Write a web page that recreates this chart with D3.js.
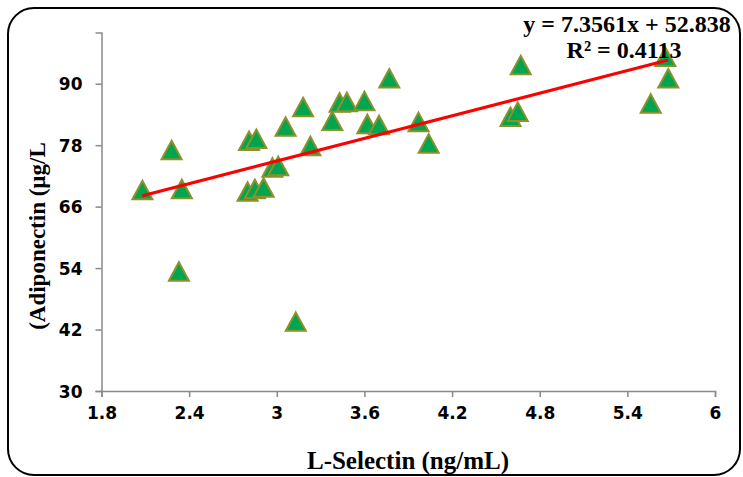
<!DOCTYPE html>
<html>
<head>
<meta charset="utf-8">
<script src="https://cdn.jsdelivr.net/npm/d3@7"></script>
<style>
  body { margin: 0; background: #fff; }
  .tick text { font-family: "DejaVu Sans", sans-serif; font-weight: bold; font-size: 17px; fill: #000; }
  .axis path, .axis line { stroke: #898989; stroke-width: 1.5; }
</style>
</head>
<body>
<div id="scatter-plot"></div>
<script>
// L-Selectin (x) vs Adiponectin (y)
var lSelectin = [2.08, 2.28, 2.35, 2.33, 2.80, 2.85, 2.91, 2.81, 2.86, 2.97, 3.01, 3.06, 3.18, 3.23, 3.13,
                 3.38, 3.43, 3.48, 3.60, 3.77, 3.62, 3.70, 3.97, 4.04, 4.60, 4.65, 4.67, 5.56, 5.66, 5.68];
var adiponectin = [69.2, 77.0, 69.4, 53.3, 68.9, 69.4, 69.7, 78.8, 79.2, 73.6, 73.9, 81.6, 85.4, 77.8, 43.5,
                   82.7, 86.3, 86.4, 86.6, 91.0, 82.1, 81.9, 82.5, 78.3, 83.5, 84.5, 93.6, 86.1, 95.2, 91.0];
var xTicks = [1.8, 2.4, 3, 3.6, 4.2, 4.8, 5.4, 6];
var yTicks = [30, 42, 54, 66, 78, 90];
var slope = 7.3561, intercept = 52.838, rSquared = 0.4113;

var width = 743, height = 477;

var svg = d3.select("#scatter-plot").append("svg")
  .attr("width", width)
  .attr("height", height);

// rounded frame round the whole chart
svg.append("rect")
  .attr("x", 8).attr("y", 8)
  .attr("width", 732).attr("height", 467)
  .attr("rx", 26).attr("ry", 26)
  .style("fill", "none")
  .style("stroke", "#000")
  .style("stroke-width", 2);

var x = d3.scaleLinear().domain([1.8, 6]).range([101.5, 715]);
var y = d3.scaleLinear().domain([30, 100]).range([391, 32.5]);

var xAxis = d3.axisBottom(x).tickValues(xTicks).tickSizeOuter(0).tickSize(6).tickPadding(8)
  .tickFormat(function(d) { return String(d); });
var yAxis = d3.axisLeft(y).tickValues(yTicks).tickSizeOuter(0).tickSize(6).tickPadding(13);

svg.append("g")
  .attr("class", "x axis")
  .attr("transform", "translate(0," + y(30) + ")")
  .call(xAxis);

svg.append("g")
  .attr("class", "y axis")
  .attr("transform", "translate(" + x(1.8) + ",0)")
  .call(yAxis);

svg.selectAll(".x.axis .tick text").attr("dy", "0.85em");
svg.selectAll(".y.axis .tick text").attr("dy", "0.36em");

// triangles
var data = lSelectin.map(function(d, i) { return [d, adiponectin[i]]; });
var tri = "M0,-10 L10,8.5 L-10,8.5 Z";

svg.selectAll(".dot")
  .data(data)
  .enter().append("path")
  .attr("class", "dot")
  .attr("d", tri)
  .attr("transform", function(d) { return "translate(" + x(d[0]) + "," + (y(d[1]) + 0.5) + ")"; })
  .style("fill", "#00A550")
  .style("stroke", "#8C912C")
  .style("stroke-width", 2);

// linear trendline across the data range
var minX = d3.min(lSelectin), maxX = d3.max(lSelectin);
svg.append("line")
  .attr("x1", x(minX)).attr("y1", y(slope * minX + intercept))
  .attr("x2", x(maxX)).attr("y2", y(slope * maxX + intercept))
  .style("stroke", "#FF0000")
  .style("stroke-width", 3);

// equation
svg.append("text")
  .attr("text-anchor", "middle")
  .attr("x", 627).attr("y", 32)
  .style("font-family", "'Liberation Serif', serif")
  .style("font-weight", "bold")
  .style("font-size", "24px")
  .text("y = " + slope + "x + " + intercept);

svg.append("text")
  .attr("text-anchor", "middle")
  .attr("x", 624).attr("y", 58)
  .style("font-family", "'Liberation Serif', serif")
  .style("font-weight", "bold")
  .style("font-size", "24px")
  .text("R\u00B2 = " + rSquared);

// axis titles
svg.append("text")
  .attr("text-anchor", "middle")
  .attr("transform", "translate(408,469)")
  .style("font-family", "'Liberation Serif', serif")
  .style("font-weight", "bold")
  .style("font-size", "25px")
  .text("L-Selectin (ng/mL)");

svg.append("text")
  .attr("text-anchor", "middle")
  .attr("transform", "translate(45,236) rotate(-90)")
  .style("font-family", "'Liberation Serif', serif")
  .style("font-weight", "bold")
  .style("font-size", "23px")
  .text("(Adiponectin (\u00B5g/L");
</script>
</body>
</html>
